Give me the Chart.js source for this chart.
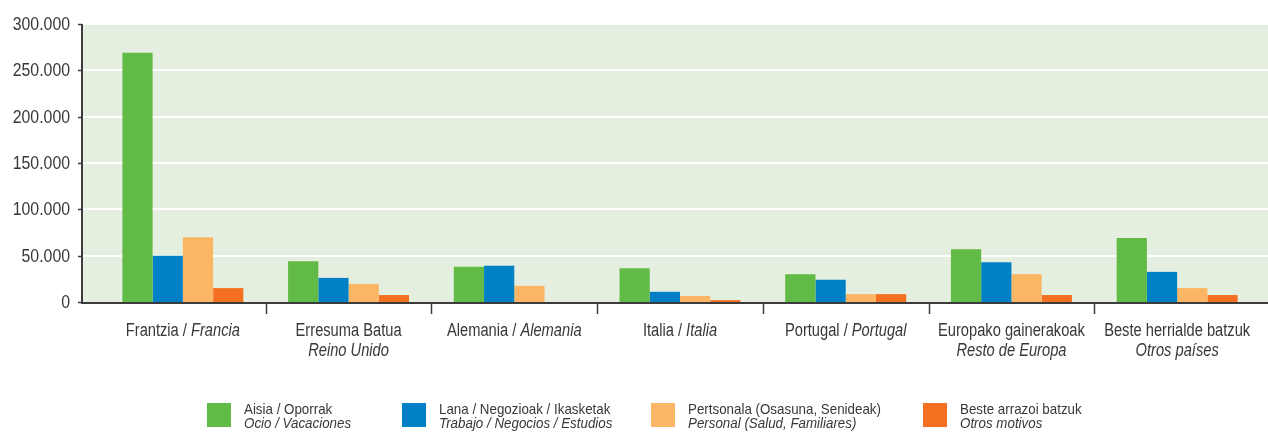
<!DOCTYPE html>
<html>
<head>
<meta charset="utf-8">
<script src="https://cdn.jsdelivr.net/npm/chart.js@4/dist/chart.umd.min.js"></script>
<style>
  html, body { margin: 0; padding: 0; background: #fff; }
  canvas { display: block; }
</style>
</head>
<body>
<canvas id="chart_motivos" width="1268" height="432"></canvas>
<script>
(function(){
  'use strict';

  // herrialdeak / países
  var labelsEu = ['Frantzia', 'Erresuma Batua', 'Alemania', 'Italia', 'Portugal', 'Europako gainerakoak', 'Beste herrialde batzuk'];
  var labelsEs = ['Francia', 'Reino Unido', 'Alemania', 'Italia', 'Portugal', 'Resto de Europa', 'Otros países'];
  var oneLine  = [true, false, true, true, true, false, false];

  // motiboak / motivos
  var seriesEu = ['Aisia / Oporrak', 'Lana / Negozioak / Ikasketak', 'Pertsonala (Osasuna, Senideak)', 'Beste arrazoi batzuk'];
  var seriesEs = ['Ocio / Vacaciones', 'Trabajo / Negocios / Estudios', 'Personal (Salud, Familiares)', 'Otros motivos'];
  var colors   = ['#62bb46', '#0081c6', '#fbb665', '#f37021'];

  var ocio     = [269000, 44000, 38000, 36500, 30000, 57000, 69000];
  var trabajo  = [50000, 26000, 39000, 11000, 24000, 43000, 32500];
  var personal = [70000, 19500, 17500, 6500, 8500, 30000, 15000];
  var otros    = [15000, 7500, 0, 2000, 8500, 7500, 7500];

  var yTicks = [0, 50000, 100000, 150000, 200000, 250000, 300000];

  // Arial Narrow no existe aquí: Liberation Sans estrechada a mano
  var FONT = "'Liberation Sans', Arial, sans-serif";
  var TEXT = '#383838';
  var AXIS = '#3c3c3c';
  var BG = '#e4efdf';
  var PLOT_LEFT = 82, PLOT_RIGHT = 1268;
  var legendX = [207, 402, 651, 923];

  function fmt(v) {
    return String(v).replace(/\B(?=(\d{3})+(?!\d))/g, '.');
  }

  function textW(ctx, s, font, sx) {
    ctx.font = font;
    return ctx.measureText(s).width * sx;
  }

  function drawText(ctx, s, x, y, font, sx, align) {
    ctx.save();
    ctx.font = font;
    var w = ctx.measureText(s).width * sx;
    var left = x;
    if (align === 'center') left = x - w / 2;
    else if (align === 'right') left = x - w;
    ctx.translate(left, y);
    ctx.scale(sx, 1);
    ctx.textAlign = 'left';
    ctx.fillText(s, 0, 0);
    ctx.restore();
    return w;
  }

  var values = [ocio, trabajo, personal, otros];
  var datasets = values.map(function(vals, i){
    return {
      label: seriesEu[i] + ' / ' + seriesEs[i],
      data: vals,
      backgroundColor: colors[i],
      borderWidth: 0,
      barPercentage: 1,
      categoryPercentage: 0.73
    };
  });

  var decor = {
    id: 'decor',
    beforeDraw: function(chart){
      var ctx = chart.ctx, a = chart.chartArea, y = chart.scales.y;
      ctx.save();
      ctx.fillStyle = BG;
      ctx.fillRect(PLOT_LEFT, a.top, PLOT_RIGHT - PLOT_LEFT, a.bottom - a.top);
      ctx.strokeStyle = '#ffffff';
      ctx.lineWidth = 2;
      yTicks.forEach(function(v){
        if (v === 0) return;
        var py = Math.round(y.getPixelForValue(v));
        ctx.beginPath();
        ctx.moveTo(PLOT_LEFT, py);
        ctx.lineTo(PLOT_RIGHT, py);
        ctx.stroke();
      });
      ctx.restore();
    },
    afterDraw: function(chart){
      var ctx = chart.ctx, a = chart.chartArea, x = chart.scales.x, y = chart.scales.y;
      ctx.save();
      ctx.textBaseline = 'alphabetic';
      // ejes
      ctx.strokeStyle = AXIS;
      ctx.lineWidth = 2;
      ctx.beginPath();
      ctx.moveTo(PLOT_LEFT, a.top);
      ctx.lineTo(PLOT_LEFT, a.bottom + 1);
      ctx.lineTo(PLOT_RIGHT, a.bottom + 1);
      ctx.stroke();
      ctx.lineWidth = 1.5;
      ctx.fillStyle = TEXT;
      yTicks.forEach(function(v){
        var py = Math.round(y.getPixelForValue(v));
        ctx.beginPath();
        ctx.moveTo(PLOT_LEFT - 4, py + 0.5);
        ctx.lineTo(PLOT_LEFT, py + 0.5);
        ctx.stroke();
        drawText(ctx, fmt(v), 70, py + 6, '18px ' + FONT, 0.88, 'right');
      });
      var n = labelsEu.length;
      for (var i = 1; i < n; i++) {
        var bx = Math.round((x.getPixelForValue(i - 1) + x.getPixelForValue(i)) / 2) + 0.5;
        ctx.beginPath();
        ctx.moveTo(bx, a.bottom + 1);
        ctx.lineTo(bx, a.bottom + 12);
        ctx.stroke();
      }

      // etiquetas del eje x
      var normal = '18px ' + FONT, italic = 'italic 18px ' + FONT, sx = 0.815;
      for (var j = 0; j < n; j++) {
        var cx = x.getPixelForValue(j);
        if (oneLine[j]) {
          var first = labelsEu[j] + ' / ';
          var w1 = textW(ctx, first, normal, sx);
          var w2 = textW(ctx, labelsEs[j], italic, sx);
          var start = cx - (w1 + w2) / 2;
          drawText(ctx, first, start, 336, normal, sx, 'left');
          drawText(ctx, labelsEs[j], start + w1, 336, italic, sx, 'left');
        } else {
          drawText(ctx, labelsEu[j], cx, 336, normal, sx, 'center');
          drawText(ctx, labelsEs[j], cx, 356, italic, sx, 'center');
        }
      }

      // leyenda
      for (var k = 0; k < seriesEu.length; k++) {
        var lx = legendX[k];
        ctx.fillStyle = colors[k];
        ctx.fillRect(lx, 403, 24, 24);
        ctx.fillStyle = TEXT;
        drawText(ctx, seriesEu[k], lx + 37, 414, '15px ' + FONT, 0.89, 'left');
        drawText(ctx, seriesEs[k], lx + 37, 428, 'italic 15px ' + FONT, 0.89, 'left');
      }
      ctx.restore();
    }
  };

  var ctx = document.getElementById('chart_motivos').getContext('2d');
  var myChart = new Chart(ctx, {
    type: 'bar',
    data: {
      labels: labelsEu.map(function(l, i){ return [l, labelsEs[i]]; }),
      datasets: datasets
    },
    options: {
      responsive: false,
      animation: false,
      devicePixelRatio: 1,
      layout: { padding: { top: 24, right: 8, left: 0, bottom: 0 } },
      plugins: {
        legend: { display: false },
        tooltip: {
          callbacks: { label: function(c){ return c.dataset.label + ': ' + fmt(c.parsed.y); } }
        }
      },
      scales: {
        x: {
          grid: { display: false },
          border: { display: false },
          ticks: { display: false },
          afterFit: function(s){ s.height = 130; }
        },
        y: {
          min: 0,
          max: 300000,
          grid: { display: false },
          border: { display: false },
          ticks: { display: false, stepSize: 50000 },
          afterFit: function(s){ s.width = 100; }
        }
      }
    },
    plugins: [decor]
  });
})();
</script>
</body>
</html>
